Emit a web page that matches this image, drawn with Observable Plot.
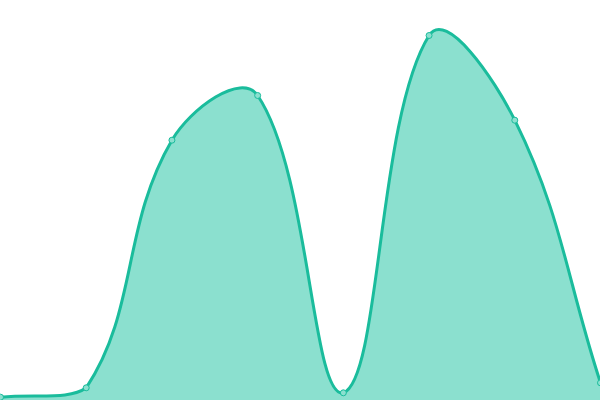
<!DOCTYPE html>
<html>
<head>
<meta charset="utf-8">
<script src="https://cdn.jsdelivr.net/npm/d3@7"></script>
<script src="https://cdn.jsdelivr.net/npm/@observablehq/plot@0.6"></script>
<style>
  html, body { margin: 0; padding: 0; background: #fff; }
  #chart svg { display: block; }
</style>
</head>
<body>
<div id="chart"></div>
<script>
const categories = [0, 1, 2, 3, 4, 5, 6, 7];
const values = [3.3, 12.7, 260.3, 305, 7.7, 365, 280.3, 17.7];

const data = categories.map((c, i) => ({x: c, y: values[i]}));

const W = 600, H = 400;

// Spline with distance-weighted tangents (tension 0.4), control points capped to the plot area
function makeSpline(tension, x0, x1, y0, y1) {
  function Spline(context) { this._context = context; }
  Spline.prototype = {
    areaStart() { this._line = 0; },
    areaEnd() { this._line = NaN; },
    lineStart() { this._x = []; this._y = []; },
    point(x, y) { this._x.push(+x); this._y.push(+y); },
    lineEnd() {
      const xs = this._x, ys = this._y, n = xs.length, ctx = this._context;
      const cap = (v, a, b) => Math.max(a, Math.min(b, v));
      if (n) {
        this._line ? ctx.lineTo(xs[0], ys[0]) : ctx.moveTo(xs[0], ys[0]);
        const cps = [];
        for (let i = 0; i < n; ++i) {
          const pi = i > 0 ? i - 1 : i, ni = Math.min(i + 1, n - 1);
          const px = xs[pi], py = ys[pi], cx = xs[i], cy = ys[i], nx = xs[ni], ny = ys[ni];
          const d01 = Math.hypot(cx - px, cy - py), d12 = Math.hypot(nx - cx, ny - cy);
          let s01 = d01 / (d01 + d12), s12 = d12 / (d01 + d12);
          if (isNaN(s01)) s01 = 0;
          if (isNaN(s12)) s12 = 0;
          const fa = tension * s01, fb = tension * s12;
          cps.push({
            px: cap(cx - fa * (nx - px), x0, x1), py: cap(cy - fa * (ny - py), y0, y1),
            nx: cap(cx + fb * (nx - px), x0, x1), ny: cap(cy + fb * (ny - py), y0, y1)
          });
        }
        for (let i = 1; i < n; ++i) {
          ctx.bezierCurveTo(cps[i - 1].nx, cps[i - 1].ny, cps[i].px, cps[i].py, xs[i], ys[i]);
        }
      }
      if (this._line || (this._line !== 0 && n === 1)) ctx.closePath();
      this._line = 1 - this._line;
    }
  };
  return (context) => new Spline(context);
}

const curve = makeSpline(0.4, 0, W, 0, H);

const chart = Plot.plot({
  width: W,
  height: H,
  margin: 0,
  x: {domain: [0, 7], axis: null},
  y: {domain: [0, 400], axis: null},
  marks: [
    Plot.areaY(data, {x: "x", y: "y", curve, fill: "#8be0cf"}),
    Plot.lineY(data, {x: "x", y: "y", curve, stroke: "#1abc9c", strokeWidth: 3}),
    Plot.dot(data, {x: "x", y: "y", r: 3, fill: "#8be0cf", stroke: "#1abc9c", strokeWidth: 1})
  ]
});
document.getElementById("chart").appendChild(chart);
</script>
</body>
</html>
